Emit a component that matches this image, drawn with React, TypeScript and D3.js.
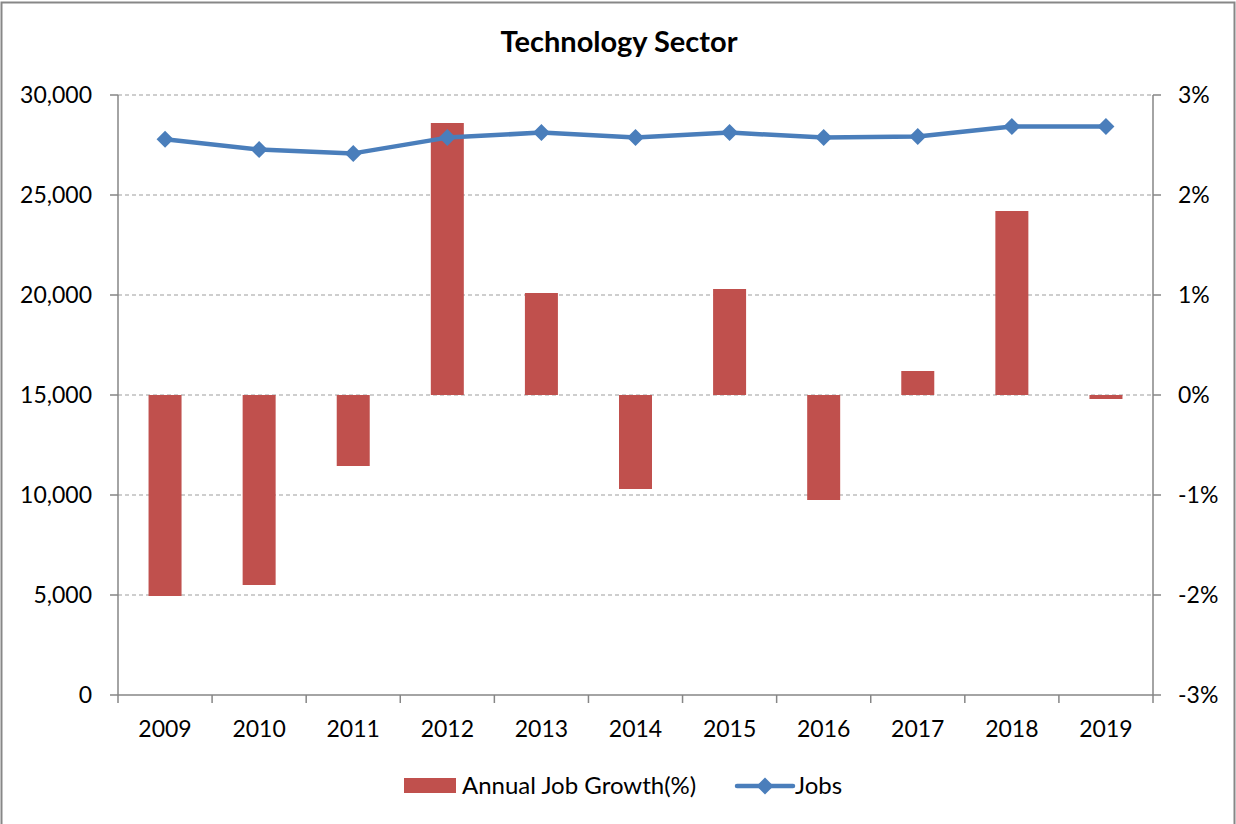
import React from "react";
import * as d3 from "d3";

const years = ["2009", "2010", "2011", "2012", "2013", "2014", "2015", "2016", "2017", "2018", "2019"];
const growthPct = [-2.01, -1.9, -0.71, 2.72, 1.02, -0.94, 1.06, -1.05, 0.24, 1.84, -0.04];
const jobs = [27790, 27270, 27080, 27870, 28120, 27870, 28120, 27870, 27920, 28420, 28420];
const leftTicks = [0, 5000, 10000, 15000, 20000, 25000, 30000];
const rightTicks = [-3, -2, -1, 0, 1, 2, 3];

const W = 1236;
const H = 824;
const plotL = 118;
const plotR = 1153;
const plotT = 95;
const plotB = 695;
const FONT = "Lato, 'Open Sans', sans-serif";
const AXIS = "#868686";
const GRID = "#BFBFBF";
const BAR = "#C0504D";
const LINE = "#4A7EBB";

export default function App() {
  const x = d3.scaleBand<string>().domain(years).range([plotL, plotR]).paddingInner(0).paddingOuter(0);
  const yL = d3.scaleLinear().domain([0, 30000]).range([plotB, plotT]);
  const yR = d3.scaleLinear().domain([-3, 3]).range([plotB, plotT]);
  const barW = 33;
  const fmt = d3.format(",");
  const line = d3
    .line<number>()
    .x((_, i) => (x(years[i]) as number) + x.bandwidth() / 2)
    .y((d) => yL(d));
  const diamond = (cx: number, cy: number, r: number) =>
    `M${cx},${cy - r}L${cx + r},${cy}L${cx},${cy + r}L${cx - r},${cy}Z`;
  const boundaries = years.map((y) => x(y) as number).concat([plotR]);

  return (
    <svg
      width={W}
      height={H}
      style={{ position: "absolute", left: 0, top: 0, background: "#fff" }}
      fontFamily={FONT}
    >
      <rect x={1.5} y={2.5} width={1233} height={830} fill="#fff" stroke="#878787" strokeWidth={2} />
      <text x={619} y={52} textAnchor="middle" fontSize={29} fontWeight="bold" fill="#000">
        Technology Sector
      </text>
      {/* gridlines */}
      {leftTicks
        .filter((t) => t > 0)
        .map((t) => (
          <line
            key={"g" + t}
            x1={plotL}
            x2={plotR}
            y1={yL(t)}
            y2={yL(t)}
            stroke={GRID}
            strokeWidth={1.3}
            strokeDasharray="4,3"
          />
        ))}
      {/* bars */}
      {growthPct.map((v, i) => {
        const cx = (x(years[i]) as number) + x.bandwidth() / 2;
        const y0 = yR(0);
        const y1 = yR(v);
        return (
          <rect
            key={"b" + i}
            x={cx - barW / 2}
            y={Math.min(y0, y1)}
            width={barW}
            height={Math.abs(y1 - y0)}
            fill={BAR}
          />
        );
      })}
      {/* axes */}
      <line x1={plotL} x2={plotL} y1={plotT} y2={plotB} stroke={AXIS} strokeWidth={1.5} />
      <line x1={plotR} x2={plotR} y1={plotT} y2={plotB} stroke={AXIS} strokeWidth={1.5} />
      <line x1={plotL} x2={plotR} y1={plotB} y2={plotB} stroke={AXIS} strokeWidth={1.5} />
      {leftTicks.map((t) => (
        <g key={"l" + t}>
          <line x1={plotL - 8} x2={plotL} y1={yL(t)} y2={yL(t)} stroke={AXIS} strokeWidth={1.5} />
          <text x={92} y={yL(t)} dy="0.35em" textAnchor="end" fontSize={23} fill="#000">
            {fmt(t)}
          </text>
        </g>
      ))}
      {rightTicks.map((t) => (
        <g key={"r" + t}>
          <line x1={plotR} x2={plotR + 8} y1={yR(t)} y2={yR(t)} stroke={AXIS} strokeWidth={1.5} />
          <text x={1178} y={yR(t)} dy="0.35em" textAnchor="start" fontSize={23} fill="#000">
            {t + "%"}
          </text>
        </g>
      ))}
      {boundaries.map((bx, i) => (
        <line key={"xt" + i} x1={bx} x2={bx} y1={plotB} y2={plotB + 8} stroke={AXIS} strokeWidth={1.5} />
      ))}
      {years.map((y) => (
        <text
          key={"x" + y}
          x={(x(y) as number) + x.bandwidth() / 2}
          y={737}
          textAnchor="middle"
          fontSize={23}
          fill="#000"
        >
          {y}
        </text>
      ))}
      {/* line */}
      <path d={line(jobs) || ""} fill="none" stroke={LINE} strokeWidth={4.5} strokeLinejoin="round" />
      {jobs.map((v, i) => (
        <path
          key={"d" + i}
          d={diamond((x(years[i]) as number) + x.bandwidth() / 2, yL(v), 8.5)}
          fill={LINE}
        />
      ))}
      {/* legend */}
      <rect x={404} y={778} width={52} height={15} fill={BAR} />
      <text x={462} y={786} dy="0.35em" fontSize={24} fill="#000">
        Annual Job Growth(%)
      </text>
      <line x1={737} x2={793} y1={786} y2={786} stroke={LINE} strokeWidth={4.5} strokeLinecap="round" />
      <path d={diamond(765, 786, 8.5)} fill={LINE} />
      <text x={795} y={786} dy="0.35em" fontSize={24} fill="#000">
        Jobs
      </text>
    </svg>
  );
}
